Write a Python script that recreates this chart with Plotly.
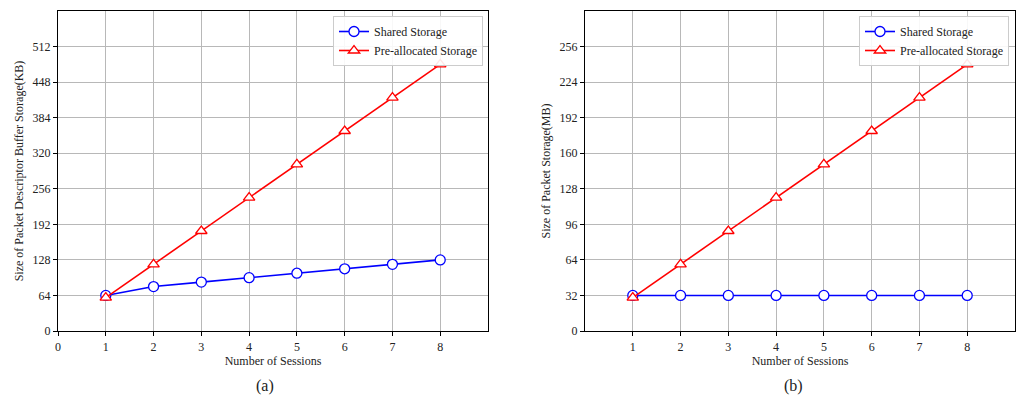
import plotly.graph_objects as go

sessions = [1, 2, 3, 4, 5, 6, 7, 8]
shared_kb = [64, 80, 88, 96, 104, 112, 120, 128]
prealloc_kb = [60, 120, 180, 240, 300, 360, 420, 480]
shared_mb = [32, 32, 32, 32, 32, 32, 32, 32]
prealloc_mb = [30, 60, 90, 120, 150, 180, 210, 240]

left_yticks = [0, 64, 128, 192, 256, 320, 384, 448, 512]
right_yticks = [0, 32, 64, 96, 128, 160, 192, 224, 256]
left_xticks = [0, 1, 2, 3, 4, 5, 6, 7, 8]
right_xticks = [1, 2, 3, 4, 5, 6, 7, 8]

FONT = "Liberation Serif, Times New Roman, serif"
BLUE = "#0000ff"
RED = "#ff0000"
W, H = 1018, 399

fig = go.Figure()

def add_pair(xa, ya, shared, pre, legend):
    fig.add_trace(go.Scatter(x=sessions, y=shared, mode="lines+markers", name="Shared Storage",
                             xaxis=xa, yaxis=ya, legend=legend,
                             line=dict(color=BLUE, width=1.6),
                             marker=dict(symbol="circle", size=10, color="white",
                                         line=dict(color=BLUE, width=1.3))))
    fig.add_trace(go.Scatter(x=sessions, y=pre, mode="lines+markers", name="Pre-allocated Storage",
                             xaxis=xa, yaxis=ya, legend=legend,
                             line=dict(color=RED, width=1.6),
                             marker=dict(symbol="triangle-up", size=10, color="white",
                                         line=dict(color=RED, width=1.3))))

add_pair("x", "y", shared_kb, prealloc_kb, "legend")
add_pair("x2", "y2", shared_mb, prealloc_mb, "legend2")

axis_common = dict(showline=True, linecolor="black", linewidth=1.2, mirror=True,
                   ticks="outside", ticklen=4, tickcolor="black", automargin=False,
                   showgrid=True, gridcolor="#b8b8b8", gridwidth=1, zeroline=False,
                   tickfont=dict(family=FONT, size=12, color="#222"))

ydom = [1 - 331 / H, 1 - 11 / H]
fig.update_layout(
    width=W, height=H,
    margin=dict(l=0, r=0, t=0, b=0),
    paper_bgcolor="white", plot_bgcolor="white",
    font=dict(family=FONT, size=12, color="#222"),
    xaxis=dict(domain=[58 / W, 488 / W], range=[0, 9], tickvals=left_xticks,
               title=dict(text="Number of Sessions", font=dict(family=FONT, size=12), standoff=4),
               anchor="y", **axis_common),
    yaxis=dict(domain=ydom, range=[0, 576], tickvals=left_yticks,
               title=dict(text="Size of Packet Descriptor Buffer Storage(KB)",
                          font=dict(family=FONT, size=12), standoff=6),
               anchor="x", **axis_common),
    xaxis2=dict(domain=[585 / W, 1015 / W], range=[0, 9], tickvals=right_xticks,
                title=dict(text="Number of Sessions", font=dict(family=FONT, size=12), standoff=4),
                anchor="y2", **axis_common),
    yaxis2=dict(domain=ydom, range=[0, 288], tickvals=right_yticks,
                title=dict(text="Size of Packet Storage(MB)",
                           font=dict(family=FONT, size=12), standoff=6),
                anchor="x2", **axis_common),
    legend=dict(x=483 / W, y=1 - 16 / H, xanchor="right", yanchor="top",
                bordercolor="#cccccc", borderwidth=1, bgcolor="rgba(255,255,255,0.9)",
                font=dict(family=FONT, size=12), tracegroupgap=0, itemwidth=30),
    legend2=dict(x=1009 / W, y=1 - 16 / H, xanchor="right", yanchor="top",
                 bordercolor="#cccccc", borderwidth=1, bgcolor="rgba(255,255,255,0.9)",
                 font=dict(family=FONT, size=12), tracegroupgap=0, itemwidth=30),
    annotations=[
        dict(text="(a)", x=265 / W, y=1 - 386 / H, xref="paper", yref="paper",
             xanchor="center", yanchor="middle",
             showarrow=False, font=dict(family=FONT, size=16, color="#222")),
        dict(text="(b)", x=793 / W, y=1 - 386 / H, xref="paper", yref="paper",
             xanchor="center", yanchor="middle",
             showarrow=False, font=dict(family=FONT, size=16, color="#222")),
    ],
)

fig.write_html("out.html", config={"displayModeBar": False},
               post_script="document.body.style.margin='0';document.body.style.overflow='hidden';")
